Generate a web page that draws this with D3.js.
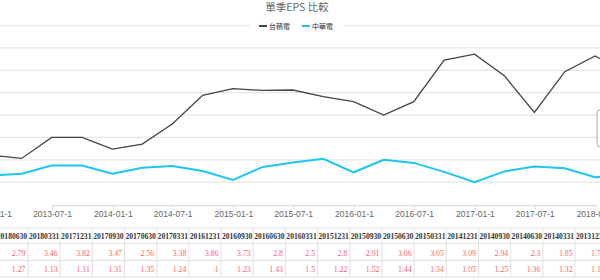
<!DOCTYPE html>
<html><head><meta charset="utf-8">
<script src="https://cdn.jsdelivr.net/npm/d3@7"></script>
<style>
html,body{margin:0;padding:0;background:#fff;overflow:hidden;}
svg{display:block;}
</style></head>
<body>
<svg id="c" width="600" height="280"></svg>
<script>
// Quarter-end dates (ascending)
const dates = ["2012-12-31","2013-03-31","2013-06-30","2013-09-30","2013-12-31","2014-03-31","2014-06-30","2014-09-30","2014-12-31","2015-03-31","2015-06-30","2015-09-30","2015-12-31","2016-03-31","2016-06-30","2016-09-30","2016-12-31","2017-03-31","2017-06-30","2017-09-30","2017-12-31","2018-03-31","2018-06-30"];
const tsmc = [1.60,1.53,2.00,2.00,1.74,1.85,2.30,2.94,3.09,3.05,3.06,2.91,2.80,2.50,2.80,3.73,3.86,3.38,2.56,3.47,3.82,3.46,2.79];
const cht  = [1.15,1.19,1.37,1.37,1.19,1.32,1.36,1.25,1.05,1.34,1.44,1.52,1.22,1.50,1.43,1.23,1.00,1.24,1.35,1.31,1.11,1.13,1.27];
const seriesNames = ["台積電","中華電"];
const title = "單季EPS 比較";
const xTicks = ["2013-01-01","2013-07-01","2014-01-01","2014-07-01","2015-01-01","2015-07-01","2016-01-01","2016-07-01","2017-01-01","2017-07-01","2018-01-01"];
const yGrid = [1.0,1.5,2.0,2.5,3.0,3.5,4.0,4.5];

const svg = d3.select("#c");
const parse = d3.utcParse("%Y-%m-%d");
const cjk = "'Noto Sans CJK TC','Noto Sans CJK SC',sans-serif";

const x = d3.scaleUtc().domain([parse("2013-07-01"), parse("2018-01-01")]).range([52, 595.5]);
const y = d3.scaleLinear().domain([0.5, 4.5]).range([204.5, 25.6]);

// grid
svg.append("g").selectAll("line").data(yGrid).join("line")
  .attr("x1",0).attr("x2",600)
  .attr("y1",d=>y(d)).attr("y2",d=>y(d))
  .attr("stroke","#e6e6e6").attr("stroke-width",1.2);

// x axis
const ax = svg.append("g").attr("transform","translate(0,205)")
  .call(d3.axisBottom(x).tickValues(xTicks.map(parse)).tickFormat(d3.utcFormat("%Y-%m-1")).tickSize(5).tickSizeOuter(0));
ax.select(".domain").attr("stroke","#d8dee8").attr("stroke-width",1.5);
ax.selectAll(".tick line").attr("stroke","#d8dee8");
ax.selectAll(".tick text").attr("fill","#666").attr("font-size","8.5px")
  .attr("font-family","'Liberation Sans',Arial,sans-serif").attr("dy","0.5em");

// lines
const pts = s => dates.map((d,i)=>[parse(d), s[i]]);
const line = d3.line().x(d=>x(d[0])).y(d=>y(d[1]));
svg.append("path").datum(pts(tsmc)).attr("d",line).attr("fill","none")
  .attr("stroke","#444").attr("stroke-width",1.3);
svg.append("path").datum(pts(cht)).attr("d",line).attr("fill","none")
  .attr("stroke","#1ec6ef").attr("stroke-width",2);

// title
svg.append("text").attr("x",297).attr("y",11).attr("text-anchor","middle")
  .attr("font-size","10.5px").attr("fill","#666").attr("font-family",cjk).text(title);

// legend
svg.append("rect").attr("x",250).attr("y",19).attr("width",93).attr("height",14).attr("fill","#fff");
const colors = ["#444","#1ec6ef"];
const legX = [259,302];
seriesNames.forEach((n,i)=>{
  svg.append("line").attr("x1",legX[i]).attr("x2",legX[i]+8).attr("y1",26).attr("y2",26)
    .attr("stroke",colors[i]).attr("stroke-width",2);
  svg.append("text").attr("x",legX[i]+10).attr("y",28.5).attr("font-size","7px")
    .attr("fill","#333").attr("font-family",cjk).text(n);
});

// partial box at right edge
svg.append("rect").attr("x",597).attr("y",110).attr("width",20).attr("height",37).attr("rx",3)
  .attr("fill","#fff").attr("stroke","#aaa").attr("stroke-width",1);

// table (descending dates)
const tDates = dates.slice().reverse();
const tT = tsmc.slice().reverse();
const tC = cht.slice().reverse();
const colW = 32.18;
const tx = d3.scaleBand().domain(tDates).range([-4.18, -4.18 + colW*tDates.length]).padding(0);
const rowY = [228, 243.5, 260.3, 277];
const tbl = svg.append("g");
rowY.forEach(ry=>tbl.append("line").attr("x1",0).attr("x2",600).attr("y1",ry).attr("y2",ry)
  .attr("stroke","#e3e3e3").attr("stroke-width",1.2));
tbl.selectAll("line.v").data(tDates).join("line").attr("class","v")
  .attr("x1",d=>tx(d)+colW).attr("x2",d=>tx(d)+colW).attr("y1",228).attr("y2",277)
  .attr("stroke","#e3e3e3").attr("stroke-width",1);
tbl.selectAll("text.h").data(tDates).join("text").attr("class","h")
  .attr("x",d=>tx(d)+colW/2).attr("y",238.5).attr("text-anchor","middle")
  .attr("font-size","7.6px").attr("font-weight","bold").attr("fill","#333")
  .attr("font-family","'Liberation Serif','Times New Roman',serif")
  .text(d=>d.replace(/-/g,""));
[tT,tC].forEach((vals,r)=>{
  tbl.selectAll("text.v"+r).data(vals).join("text").attr("class","v"+r)
    .attr("x",(d,i)=>tx(tDates[i])+colW-2.5).attr("y",r===0?255.5:272)
    .attr("text-anchor","end").attr("font-size","7.8px").attr("fill","#ff5c6c")
    .attr("font-family","'Liberation Serif','Times New Roman',serif")
    .text(d=>d3.format("")(+d.toFixed(2)));
});
</script>
</body></html>
